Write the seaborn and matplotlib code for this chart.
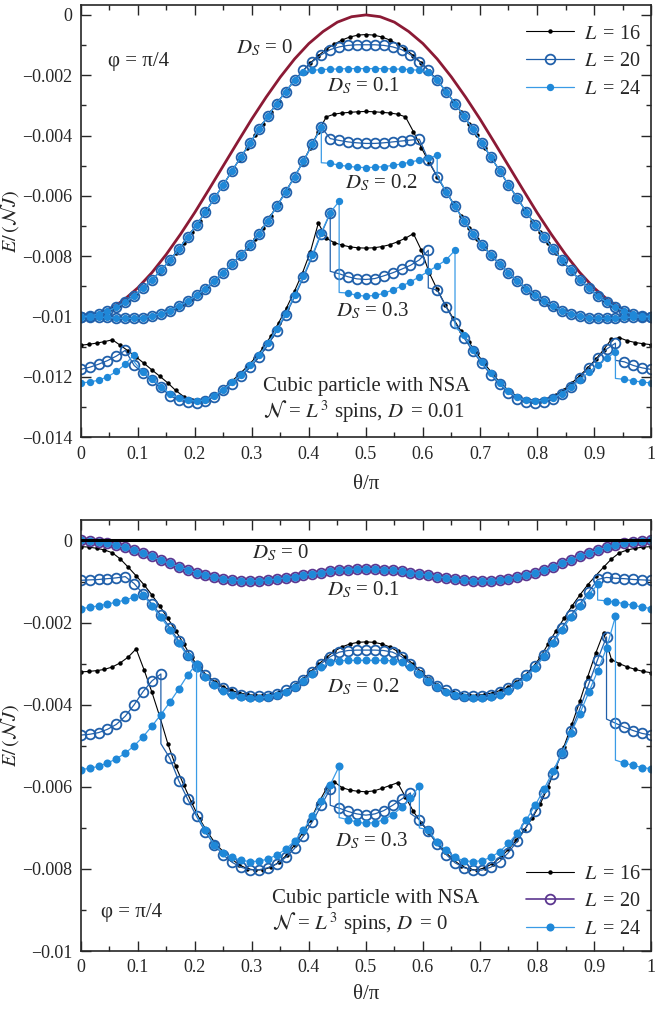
import numpy as np
import pandas as pd
import matplotlib
matplotlib.use("Agg")
import matplotlib.pyplot as plt
import seaborn as sns
from matplotlib.ticker import MultipleLocator, FuncFormatter

# ---------------- data (energies in units of 1e-3, theta/pi on a uniform grid 0..1) -------------
# ---- upper panel (phi = pi/4, D = 0.01) ----
TOP_DS0 = [-10.00, -9.94, -9.76, -9.46, -9.05, -8.54, -7.94, -7.27, -6.55, -5.78, -5.00, -4.22, -3.45,
           -2.73, -2.06, -1.46, -0.95, -0.55, -0.24, -0.06, 0.00, -0.06, -0.24, -0.55, -0.95, -1.46,
           -2.06, -2.73, -3.45, -4.22, -5.00, -5.78, -6.55, -7.27, -7.94, -8.54, -9.05, -9.46, -9.76,
           -9.94, -10.00]

TOP_DS01_L16 = [-10.00, -9.98, -9.94, -9.86, -9.75, -9.62, -9.45, -9.25, -9.03, -8.78, -8.51, -8.21,
                -7.89, -7.55, -7.19, -6.82, -6.43, -6.03, -5.63, -5.22, -4.80, -4.40, -3.99, -3.60,
                -3.21, -2.84, -2.50, -2.17, -1.87, -1.59, -1.35, -1.14, -0.97, -0.83, -0.73, -0.67,
                -0.65, -0.67, -0.73, -0.83, -0.97, -1.14, -1.35, -1.59, -1.87, -2.17, -2.50, -2.84,
                -3.21, -3.60, -3.99, -4.40, -4.80, -5.22, -5.63, -6.03, -6.43, -6.82, -7.19, -7.55,
                -7.89, -8.21, -8.51, -8.78, -9.03, -9.25, -9.45, -9.62, -9.75, -9.86, -9.94, -9.98,
                -10.00]
TOP_DS01_L20 = [-10.00, -9.98, -9.92, -9.82, -9.69, -9.52, -9.31, -9.06, -8.78, -8.47, -8.13, -7.76,
                -7.37, -6.96, -6.53, -6.08, -5.63, -5.16, -4.70, -4.24, -3.79, -3.35, -2.94, -2.54,
                -2.17, -1.83, -1.55, -1.32, -1.15, -1.06, -1.01, -0.99, -0.99, -0.99, -1.01, -1.06,
                -1.15, -1.32, -1.55, -1.83, -2.17, -2.54, -2.94, -3.35, -3.79, -4.24, -4.70, -5.16,
                -5.63, -6.08, -6.53, -6.96, -7.37, -7.76, -8.13, -8.47, -8.78, -9.06, -9.31, -9.52,
                -9.69, -9.82, -9.92, -9.98, -10.00]
TOP_DS01_L24 = [-10.00, -9.98, -9.92, -9.82, -9.69, -9.52, -9.31, -9.06, -8.78, -8.47, -8.13, -7.76,
                -7.37, -6.96, -6.53, -6.08, -5.63, -5.16, -4.70, -4.24, -3.79, -3.35, -2.94, -2.54,
                -2.17, -1.90, -1.84, -1.81, -1.80, -1.79, -1.78, -1.78, -1.78, -1.78, -1.78, -1.79,
                -1.80, -1.81, -1.84, -1.90, -2.17, -2.54, -2.94, -3.35, -3.79, -4.24, -4.70, -5.16,
                -5.63, -6.08, -6.53, -6.96, -7.37, -7.76, -8.13, -8.47, -8.78, -9.06, -9.31, -9.52,
                -9.69, -9.82, -9.92, -9.98, -10.00]

TOP_DS02_L16 = [-10.00, -10.01, -10.02, -10.03, -10.04, -10.05, -10.06, -10.06, -10.03, -9.98, -9.91,
                -9.83, -9.72, -9.58, -9.41, -9.23, -9.03, -8.80, -8.55, -8.29, -8.02, -7.73, -7.42,
                -7.07, -6.65, -6.23, -5.80, -5.36, -4.90, -4.40, -3.87, -3.38, -3.29, -3.25, -3.23,
                -3.21, -3.20, -3.21, -3.23, -3.25, -3.29, -3.38, -3.87, -4.40, -4.90, -5.36, -5.80,
                -6.23, -6.65, -7.07, -7.42, -7.73, -8.02, -8.29, -8.55, -8.80, -9.03, -9.23, -9.41,
                -9.58, -9.72, -9.83, -9.91, -9.98, -10.03, -10.06, -10.06, -10.05, -10.04, -10.03,
                -10.02, -10.01, -10.00]
TOP_DS02_L20 = [-10.00, -10.01, -10.02, -10.03, -10.05, -10.06, -10.06, -10.04, -9.98, -9.90, -9.80,
                -9.66, -9.49, -9.29, -9.07, -8.82, -8.55, -8.25, -7.95, -7.62, -7.25, -6.82, -6.35,
                -5.87, -5.36, -4.85, -4.28, -3.72, -4.10, -4.16, -4.21, -4.24, -4.26, -4.26, -4.24,
                -4.21, -4.18, -4.15, -4.12, -4.80, -5.36, -5.87, -6.35, -6.82, -7.25, -7.62, -7.95,
                -8.25, -8.55, -8.82, -9.07, -9.29, -9.49, -9.66, -9.80, -9.90, -9.98, -10.04, -10.06,
                -10.06, -10.05, -10.03, -10.02, -10.01, -10.00]
TOP_DS02_L24 = [-10.00, -10.01, -10.02, -10.03, -10.05, -10.06, -10.06, -10.04, -9.98, -9.90, -9.80,
                -9.66, -9.49, -9.29, -9.07, -8.82, -8.55, -8.25, -7.95, -7.62, -7.25, -6.82, -6.35,
                -5.87, -5.36, -4.85, -4.28, -3.72, -4.92, -4.98, -5.02, -5.05, -5.06, -5.05, -5.03,
                -4.99, -4.94, -4.88, -4.81, -4.74, -4.66, -5.87, -6.35, -6.82, -7.25, -7.62, -7.95,
                -8.25, -8.55, -8.82, -9.07, -9.29, -9.49, -9.66, -9.80, -9.90, -9.98, -10.04, -10.06,
                -10.06, -10.05, -10.03, -10.02, -10.01, -10.00]
# vertical jumps: (grid index, energy reached at the same theta before the next point)
TOP_DS02_L24_JUMPS = [(27, -4.90), (40, -5.30)]

TOP_DS03_L16 = [-10.95, -10.92, -10.88, -10.83, -10.77, -10.95, -11.14, -11.34, -11.55, -11.77,
                -11.98, -12.20, -12.45, -12.65, -12.77, -12.80, -12.76, -12.62, -12.40, -12.16,
                -11.92, -11.66, -11.38, -11.05, -10.65, -10.20, -9.70, -9.15, -8.55, -7.85,
                -6.90, -7.40, -7.55, -7.63, -7.69, -7.72, -7.73, -7.72, -7.68, -7.62,
                -7.52, -7.40, -7.25, -7.80, -8.55, -9.10, -9.60, -10.05, -10.48, -10.85,
                -11.22, -11.57, -11.90, -12.20, -12.45, -12.63, -12.75, -12.80, -12.79, -12.72,
                -12.60, -12.42, -12.20, -11.96, -11.70, -11.42, -11.10, -10.75, -10.70, -10.80,
                -10.86, -10.90, -10.93]
TOP_DS03_L20 = [-11.75, -11.68, -11.58, -11.46, -11.31, -11.12, -11.62, -11.87, -12.10, -12.35,
                -12.62, -12.77, -12.84, -12.86, -12.80, -12.65, -12.45, -12.22, -11.98, -11.68,
                -11.35, -10.95, -10.48, -9.95, -9.35, -8.70, -8.00, -7.25, -6.57, -8.58,
                -8.68, -8.75, -8.77, -8.74, -8.65, -8.55, -8.43, -8.30, -8.12, -7.80,
                -9.12, -9.68, -10.20, -10.70, -11.15, -11.55, -11.92, -12.25, -12.52, -12.72,
                -12.83, -12.86, -12.84, -12.74, -12.56, -12.32, -12.02, -11.70, -11.38, -11.08,
                -10.88, -11.50, -11.62, -11.70, -11.75]
TOP_DS03_L20_JUMPS = [(28, -8.50), (39, -9.05), (60, -11.45)]
TOP_DS03_L24 = [-12.20, -12.17, -12.11, -12.00, -11.82, -11.58, -11.26, -11.85, -12.08, -12.32,
                -12.55, -12.70, -12.78, -12.80, -12.76, -12.62, -12.42, -12.18, -11.93, -11.62,
                -11.28, -10.88, -10.42, -9.90, -9.30, -8.65, -7.95, -7.22, -6.55, -6.18,
                -9.22, -9.30, -9.32, -9.30, -9.23, -9.12, -8.99, -8.85, -8.68, -8.50,
                -8.32, -8.12, -7.80, -10.60, -11.10, -11.50, -11.88, -12.20, -12.48, -12.68,
                -12.78, -12.80, -12.78, -12.70, -12.55, -12.35, -12.10, -11.85, -11.60, -11.38,
                -11.18, -12.08, -12.13, -12.17, -12.20]
TOP_DS03_L24_JUMPS = [(6, -11.50), (29, -9.20), (42, -10.35), (60, -12.05)]

# ---- lower panel (phi = pi/4, D = 0) ----
BOT_DS0 = [0.0, 0.0]
BOT_DS01_L20 = [0.00, -0.01, -0.03, -0.06, -0.11, -0.17, -0.24, -0.31, -0.39, -0.48, -0.56, -0.64,
                -0.71, -0.78, -0.84, -0.89, -0.93, -0.96, -0.98, -0.98, -0.98, -0.96, -0.94, -0.91,
                -0.88, -0.85, -0.81, -0.78, -0.75, -0.72, -0.71, -0.69, -0.69, -0.69, -0.71, -0.72,
                -0.75, -0.78, -0.81, -0.85, -0.88, -0.91, -0.94, -0.96, -0.98, -0.98, -0.98, -0.96,
                -0.93, -0.89, -0.84, -0.78, -0.71, -0.64, -0.56, -0.48, -0.39, -0.31, -0.24, -0.17,
                -0.11, -0.06, -0.03, -0.01, 0.00]
BOT_DS01_L24 = [0.00, -0.01, -0.03, -0.06, -0.11, -0.17, -0.24, -0.31, -0.39, -0.48, -0.56, -0.64,
                -0.71, -0.78, -0.84, -0.89, -0.93, -0.96, -0.98, -0.98, -0.98, -0.96, -0.94, -0.91,
                -0.88, -0.85, -0.81, -0.78, -0.75, -0.72, -0.71, -0.69, -0.69, -0.69, -0.71, -0.72,
                -0.75, -0.78, -0.81, -0.85, -0.88, -0.91, -0.94, -0.96, -0.98, -0.98, -0.98, -0.96,
                -0.93, -0.89, -0.84, -0.78, -0.71, -0.64, -0.56, -0.48, -0.39, -0.31, -0.24, -0.17,
                -0.11, -0.06, -0.03, -0.01, 0.00]

BOT_DS02_L16 = [-0.15, -0.16, -0.19, -0.23, -0.30, -0.45, -0.65, -0.86, -1.08, -1.33, -1.60, -1.90,
                -2.20, -2.52, -2.85, -3.10, -3.30, -3.45, -3.57, -3.65, -3.71, -3.75, -3.77, -3.77,
                -3.75, -3.70, -3.63, -3.52, -3.38, -3.20, -3.02, -2.85, -2.70, -2.59, -2.52, -2.48,
                -2.47, -2.48, -2.52, -2.59, -2.70, -2.85, -3.02, -3.20, -3.38, -3.52, -3.63, -3.70,
                -3.75, -3.77, -3.77, -3.75, -3.71, -3.65, -3.57, -3.45, -3.30, -3.10, -2.85, -2.52,
                -2.20, -1.90, -1.60, -1.33, -1.08, -0.86, -0.65, -0.45, -0.30, -0.23, -0.19, -0.16,
                -0.15]
BOT_DS02_L20 = [-0.97, -0.96, -0.95, -0.93, -0.91, -0.88, -1.05, -1.30, -1.55, -1.82, -2.12, -2.45,
                -2.78, -3.05, -3.28, -3.46, -3.60, -3.70, -3.76, -3.80, -3.80, -3.78, -3.73, -3.65,
                -3.54, -3.39, -3.20, -3.00, -2.83, -2.72, -2.68, -2.67, -2.67, -2.67, -2.68, -2.72,
                -2.83, -3.00, -3.20, -3.39, -3.54, -3.65, -3.73, -3.78, -3.80, -3.80, -3.76, -3.70,
                -3.60, -3.46, -3.28, -3.05, -2.78, -2.45, -2.12, -1.82, -1.55, -1.25, -0.95, -0.90,
                -0.92, -0.93, -0.95, -0.96, -0.97]
BOT_DS02_L24 = [-1.66, -1.63, -1.59, -1.55, -1.50, -1.45, -1.38, -1.32, -1.60, -1.87, -2.17, -2.50,
                -2.82, -3.10, -3.33, -3.52, -3.66, -3.76, -3.82, -3.84, -3.84, -3.81, -3.76, -3.68,
                -3.58, -3.43, -3.25, -3.08, -2.97, -2.93, -2.92, -2.92, -2.92, -2.92, -2.92, -2.93,
                -2.97, -3.08, -3.25, -3.43, -3.58, -3.68, -3.76, -3.81, -3.84, -3.84, -3.82, -3.76,
                -3.66, -3.52, -3.33, -3.10, -2.82, -2.50, -2.17, -1.87, -1.60, -1.32, -1.07, -1.47,
                -1.50, -1.54, -1.58, -1.62, -1.66]
BOT_DS02_L24_JUMPS = [(58, -1.45)]

BOT_DS03_L16 = [-3.20, -3.19, -3.17, -3.14, -3.08, -2.98, -2.84, -2.64, -3.15, -3.70, -4.30, -4.95,
                -5.50, -5.95, -6.38, -6.78, -7.10, -7.38, -7.58, -7.75, -7.90, -7.99, -8.03, -8.02,
                -7.96, -7.84, -7.66, -7.42, -7.13, -6.82, -6.40, -6.05, -5.88, -6.02, -6.08, -6.11,
                -6.12, -6.10, -6.04, -5.97, -5.90, -6.25, -6.60, -6.88, -7.13, -7.38, -7.58, -7.77,
                -7.92, -8.00, -8.03, -7.97, -7.87, -7.72, -7.52, -7.30, -7.04, -6.76, -6.42, -6.00,
                -5.52, -5.02, -4.48, -3.92, -3.32, -2.75, -2.25, -2.90, -3.00, -3.08, -3.14, -3.19,
                -3.22]
BOT_DS03_L20 = [-4.74, -4.72, -4.68, -4.60, -4.48, -4.28, -4.00, -3.68, -3.42, -3.25, -5.30, -5.85,
                -6.30, -6.72, -7.10, -7.42, -7.66, -7.84, -7.96, -8.02, -8.02, -7.97, -7.88, -7.72,
                -7.50, -7.20, -6.85, -6.45, -6.05, -6.52, -6.60, -6.66, -6.69, -6.66, -6.58, -6.45,
                -6.30, -6.15, -6.80, -7.08, -7.40, -7.65, -7.85, -7.97, -8.03, -8.03, -7.96, -7.82,
                -7.60, -7.32, -6.98, -6.60, -6.15, -5.68, -5.18, -4.65, -4.10, -3.50, -2.90, -2.35,
                -4.45, -4.55, -4.63, -4.70, -4.74]
BOT_DS03_L20_JUMPS = [(9, -4.95), (28, -6.45), (37, -6.65), (59, -4.35)]
BOT_DS03_L24 = [-5.58, -5.55, -5.50, -5.42, -5.32, -5.18, -5.00, -4.78, -4.52, -4.24, -3.94, -3.62,
                -3.28, -3.00, -7.05, -7.42, -7.62, -7.72, -7.79, -7.82, -7.81, -7.76, -7.66, -7.52,
                -7.32, -7.05, -6.72, -6.35, -5.95, -5.50, -6.80, -6.86, -6.89, -6.87, -6.80, -6.68,
                -6.50, -6.28, -5.98, -7.05, -7.35, -7.55, -7.72, -7.80, -7.82, -7.80, -7.72, -7.58,
                -7.38, -7.12, -6.80, -6.45, -6.05, -5.62, -5.17, -4.70, -4.22, -3.70, -3.18, -2.62,
                -1.85, -5.42, -5.48, -5.53, -5.56]
BOT_DS03_L24_JUMPS = [(13, -6.70), (29, -6.75), (38, -7.00), (60, -5.35)]

LEGEND_LABELS = [r"$L\,$ = 16", r"$L\,$ = 20", r"$L\,$ = 24"]

# ---------------- style ----------------
sns.set_style("ticks")
plt.rcParams["font.family"] = ["Liberation Serif", "DejaVu Serif"]
plt.rcParams["mathtext.fontset"] = "stix"
plt.rcParams["axes.linewidth"] = 1.2

C16 = "black"
C20 = "#2160aa"
C24 = "#1f88d8"
C24L = "#3a9be6"
CRED = "#8b1a35"
CPUR = "#5c3790"


def draw(ax, vals, color, ms, mfc, mec, mew, lw=0.9, z=2, marker="o", jumps=()):
    y = np.asarray(vals, dtype=float) * 1e-3
    x = np.linspace(0.0, 1.0, len(y))
    if not jumps:
        df = pd.DataFrame({"theta": x, "E": y})
        sns.lineplot(data=df, x="theta", y="E", ax=ax, color=color, linewidth=lw,
                     marker=marker, markersize=ms, markerfacecolor=mfc,
                     markeredgecolor=mec, markeredgewidth=mew, zorder=z,
                     sort=False, estimator=None, legend=False)
        return ax.lines[-1]
    jd = dict(jumps)
    xs, ys = [], []
    for k in range(len(y)):
        xs.append(x[k])
        ys.append(y[k])
        if k in jd:
            xs.append(x[k])
            ys.append(jd[k] * 1e-3)
    dfl = pd.DataFrame({"theta": xs, "E": ys})
    sns.lineplot(data=dfl, x="theta", y="E", ax=ax, color=color, linewidth=lw,
                 zorder=z, sort=False, estimator=None, legend=False)
    dfm = pd.DataFrame({"theta": x, "E": y})
    sns.lineplot(data=dfm, x="theta", y="E", ax=ax, color=color, linestyle="",
                 marker=marker, markersize=ms, markerfacecolor=mfc,
                 markeredgecolor=mec, markeredgewidth=mew, zorder=z,
                 sort=False, estimator=None, legend=False)
    return ax.lines[-1]


def fmt(v, p):
    v = round(v, 6)
    if abs(v) < 1e-12:
        v = 0.0
    return ("%g" % v).replace("-", "\u2212")


def style_axes(ax, ylo, yhi):
    ax.set_xlim(0, 1)
    ax.set_ylim(ylo, yhi)
    ax.xaxis.set_major_locator(MultipleLocator(0.1))
    ax.xaxis.set_minor_locator(MultipleLocator(0.05))
    ax.yaxis.set_major_locator(MultipleLocator(0.002))
    ax.yaxis.set_minor_locator(MultipleLocator(0.001))
    ax.xaxis.set_major_formatter(FuncFormatter(fmt))
    ax.yaxis.set_major_formatter(FuncFormatter(fmt))
    ax.tick_params(which="both", direction="in", top=True, right=True, width=1.0,
                   labelsize=13, pad=6)
    ax.tick_params(which="major", length=7)
    ax.tick_params(which="minor", length=3.5)
    for s in ax.spines.values():
        s.set_linewidth(1.2)
        s.set_visible(True)
    ax.set_xlabel("θ/π", fontsize=15)
    ax.set_ylabel(r"$E/\,(\mathcal{N}J)$", fontsize=14.5)
    ax.yaxis.set_label_coords(-0.104, 0.5)


fig = plt.figure(figsize=(6.57, 10.11), dpi=100)
ax1 = fig.add_axes([0.1228, 0.5675, 0.8682, 0.4276])
ax2 = fig.add_axes([0.1228, 0.0593, 0.8682, 0.4264])

# ---------------- upper panel ----------------
draw(ax1, TOP_DS0, CRED, 0, "none", CRED, 0, lw=2.0, z=1.9, marker=None)
handles_top = []
for grp16, grp20, grp24, j20, j24 in [
        (TOP_DS01_L16, TOP_DS01_L20, TOP_DS01_L24, (), ()),
        (TOP_DS02_L16, TOP_DS02_L20, TOP_DS02_L24, (), TOP_DS02_L24_JUMPS),
        (TOP_DS03_L16, TOP_DS03_L20, TOP_DS03_L24, TOP_DS03_L20_JUMPS, TOP_DS03_L24_JUMPS)]:
    h16 = draw(ax1, grp16, C16, 3.2, C16, C16, 0, lw=0.8, z=2.0)
    h20 = draw(ax1, grp20, C20, 7.0, "none", C20, 1.3, lw=0.9, z=2.1, jumps=j20)
    h24 = draw(ax1, grp24, C24L, 5.3, C24, C24, 0, lw=0.9, z=2.2, jumps=j24)
    if not handles_top:
        handles_top = [h16, h20, h24]

style_axes(ax1, -0.014, 0.00033)
ax1.xaxis.set_label_coords(0.5, -0.087)

tk = dict(fontsize=15, va="baseline", ha="left")
ax1.text(0.048, -1.71e-3, "φ = π/4", **tk)
ax1.text(0.272, -1.26e-3, r"$D_S$ = 0", **tk)
ax1.text(0.432, -2.54e-3, r"$D_S$ = 0.1", **tk)
ax1.text(0.463, -5.74e-3, r"$D_S$ = 0.2", **tk)
ax1.text(0.448, -9.99e-3, r"$D_S$ = 0.3", **tk)
ax1.text(0.3205, -12.47e-3, "Cubic particle with NSA", **tk)
ax1.text(0.3205, -13.36e-3, r"$\mathcal{N}$ = $L^{\,3}$ spins, $D\,$ = 0.01", **tk)

ax1.legend(handles_top, LEGEND_LABELS, loc="upper left", bbox_to_anchor=(0.78, 0.955),
           frameon=False, fontsize=14.5, handlelength=2.4, handletextpad=0.5,
           labelspacing=0.42, borderpad=0, borderaxespad=0)

# ---------------- lower panel ----------------
draw(ax2, BOT_DS0, "black", 0, "none", "black", 0, lw=2.2, z=3, marker=None)
h20p = draw(ax2, BOT_DS01_L20, CPUR, 7.0, "none", CPUR, 1.3, lw=1.2, z=2.1)
h24b = draw(ax2, BOT_DS01_L24, C24L, 5.8, C24, C24, 0, lw=0.9, z=2.2)
h16b = None
for grp16, grp20, grp24, j20, j24 in [
        (BOT_DS02_L16, BOT_DS02_L20, BOT_DS02_L24, (), BOT_DS02_L24_JUMPS),
        (BOT_DS03_L16, BOT_DS03_L20, BOT_DS03_L24, BOT_DS03_L20_JUMPS, BOT_DS03_L24_JUMPS)]:
    a = draw(ax2, grp16, C16, 3.2, C16, C16, 0, lw=0.8, z=2.0)
    if h16b is None:
        h16b = a
    draw(ax2, grp20, C20, 7.0, "none", C20, 1.3, lw=0.9, z=2.1, jumps=j20)
    draw(ax2, grp24, C24L, 5.8, C24, C24, 0, lw=0.9, z=2.2, jumps=j24)

style_axes(ax2, -0.01, 0.0005)
ax2.xaxis.set_label_coords(0.5, -0.079)

ax2.text(0.300, -0.445e-3, r"$D_S$ = 0", **tk)
ax2.text(0.432, -1.34e-3, r"$D_S$ = 0.1", **tk)
ax2.text(0.432, -3.69e-3, r"$D_S$ = 0.2", **tk)
ax2.text(0.445, -7.46e-3, r"$D_S$ = 0.3", **tk)
ax2.text(0.335, -8.83e-3, "Cubic particle with NSA", **tk)
ax2.text(0.335, -9.49e-3, r"$\mathcal{N}$ = $L^{\,3}$ spins, $D\,$ = 0", **tk)
ax2.text(0.0365, -9.17e-3, "φ = π/4", **tk)

ax2.legend([h16b, h20p, h24b], LEGEND_LABELS, loc="upper left", bbox_to_anchor=(0.78, 0.2),
           frameon=False, fontsize=14.5, handlelength=2.4, handletextpad=0.5,
           labelspacing=0.42, borderpad=0, borderaxespad=0)

fig.savefig("out.png", dpi=100)
